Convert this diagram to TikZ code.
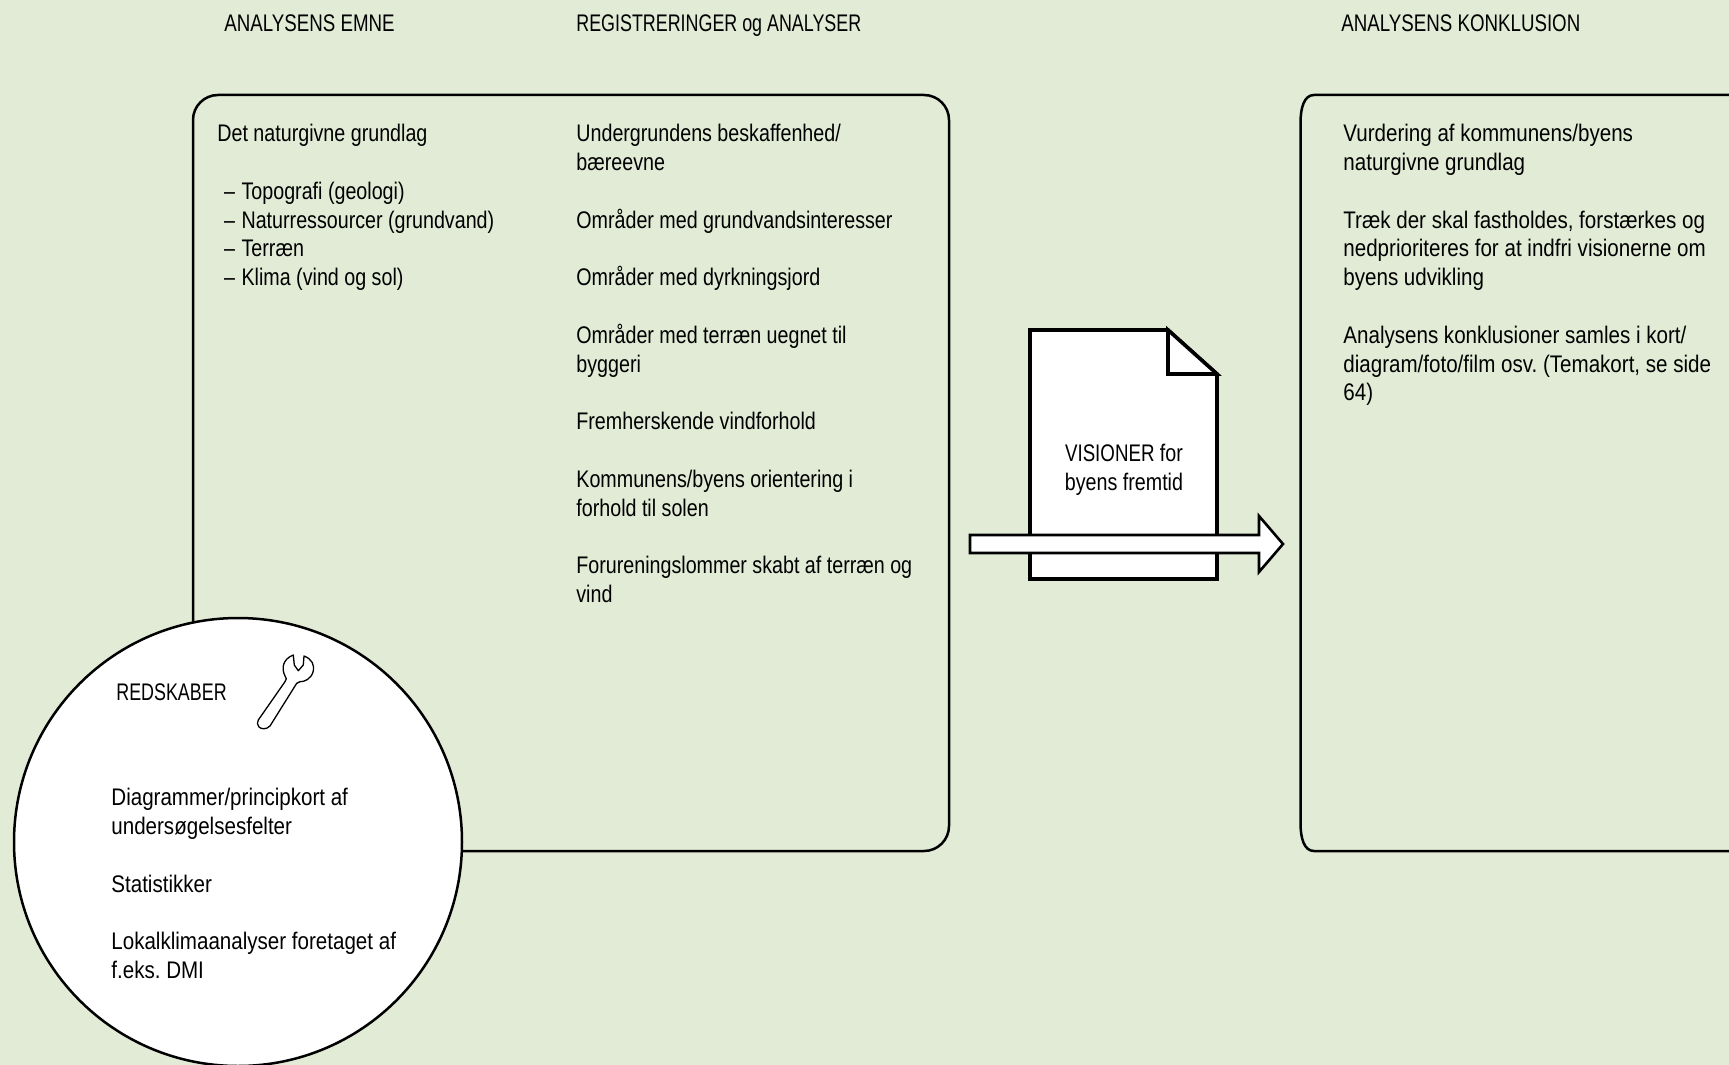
\documentclass[tikz,border=0pt]{standalone}
\usepackage{fontspec}
\setmainfont[FakeStretch=0.82]{Liberation Sans}
\newfontfamily\widefont[FakeStretch=0.857]{Liberation Sans}
\newfontfamily\capsfont[FakeStretch=0.78]{Liberation Sans}
\newfontfamily\tightcaps[FakeStretch=0.745]{Liberation Sans}
\usetikzlibrary{positioning}
\frenchspacing
\definecolor{pagegreen}{RGB}{226,235,214}
\tikzset{
    panel/.style={draw=black, line width=1.25pt},
    paper/.style={draw=black, fill=white, line width=1.8pt, line join=miter},
    bigarrow/.style={draw=black, fill=white, line width=1.3pt, line join=miter},
    tool/.style={draw=black, fill=white, line width=0.65pt, line join=round},
    txt/.style={anchor=north west, inner sep=0pt, align=left,
        font=\fontsize{12}{14.4}\selectfont},
    widetxt/.style={txt, font=\widefont\fontsize{12}{14.4}\selectfont},
    ctxt/.style={inner sep=0pt, align=center,
        font=\fontsize{12}{14.4}\selectfont}
}
\newcommand{\gap}{\\[14.4pt]}
\newcommand{\dashitem}{\makebox[12.1pt][l]{\hspace*{3.3pt}--}}
\begin{document}
\begin{tikzpicture}[x=0.5pt,y=-0.5pt]
	\useasboundingbox (0,0) rectangle (1729,1065);
	\clip (0,0) rectangle (1729,1065);
	\fill[pagegreen] (0,0) rectangle (1729,1065);
	% headings
	\node[txt] (emne) at (224,14.5) {\capsfont ANALYSENS EMNE};
	\node[txt] (reg) at (576,14.5) {\tightcaps REGISTRERINGER og ANALYSER};
	\node[txt] (konkl) at (1341,14.5) {\capsfont ANALYSENS KONKLUSION};
	% panels
	\draw[panel,rounded corners=12.5pt] (193,95) rectangle (949,851);
	\draw[panel] (1760,95) -- (1314,95) .. controls (1304,95) and (1300.5,108) .. (1300.5,123)
		-- (1300.5,823) .. controls (1300.5,838) and (1304,851) .. (1314,851) -- (1760,851);
	% panel texts
	\node[txt] (grundlag) at (217,124) {Det naturgivne grundlag\gap
		\dashitem Topografi (geologi)\\
		\dashitem Naturressourcer (grundvand)\\
		\dashitem Terr\ae n\\
		\dashitem Klima (vind og sol)};
	\node[txt] (registrering) at (576,124) {Undergrundens beskaffenhed/\\b\ae reevne\gap
		Omr\aa der med grundvandsinteresser\gap
		Omr\aa der med dyrkningsjord\gap
		Omr\aa der med terr\ae n uegnet til\\byggeri\gap
		Fremherskende vindforhold\gap
		Kommunens/byens orientering i\\forhold til solen\gap
		Forureningslommer skabt af terr\ae n og\\vind};
	\node[widetxt] (vurdering) at (1343,124) {Vurdering af kommunens/byens\\naturgivne grundlag\gap
		Tr\ae k der skal fastholdes, forst\ae rkes og\\nedprioriteres for at indfri visionerne om\\byens udvikling\gap
		Analysens konklusioner samles i kort/\\diagram/foto/film osv. (Temakort, se side\\64)};
	% visioner sheet
	\draw[paper] (1030,330) -- (1168,330) -- (1217,374) -- (1217,579) -- (1030,579) -- cycle;
	\draw[paper] (1168,330) -- (1168,374) -- (1217,374) -- cycle;
	\node[ctxt] (visioner) at (1124,470) {{\capsfont VISIONER} for\\byens fremtid};
	\draw[bigarrow] (970,535) -- (1259,535) -- (1259,516) -- (1283,544) -- (1259,572)
		-- (1259,553) -- (970,553) -- cycle;
	% redskaber
	\node[circle,draw=black,fill=white,line width=1.25pt,minimum size=224pt,inner sep=0pt] (redskaber) at (238,842) {};
	\node[txt] (redskabertxt) at (116,683) {\tightcaps REDSKABER};
	\node[widetxt] (redskabliste) at (111,788) {Diagrammer/principkort af\\unders\o gelsesfelter\gap
		Statistikker\gap
		Lokalklimaanalyser foretaget af\\f.eks. DMI};
	% wrench
	\draw[tool] (258.3,720) -- (285,681.7) .. controls (287,679) and (286.5,678.5) .. (285,676)
		.. controls (281,668) and (283,659) .. (293.3,655) -- (294.3,665) -- (298.3,670.7) -- (303.3,665) -- (304,656)
		.. controls (312,659) and (315,665) .. (313,672)
		.. controls (311,679) and (304,682) .. (300,681.7) .. controls (298,682) and (297.5,682.5) .. (296.7,683.3)
		-- (270,726) .. controls (266,730) and (261,729) .. (259,727) .. controls (257,725) and (257,722) .. (258.3,720) -- cycle;
\end{tikzpicture}
\end{document}
